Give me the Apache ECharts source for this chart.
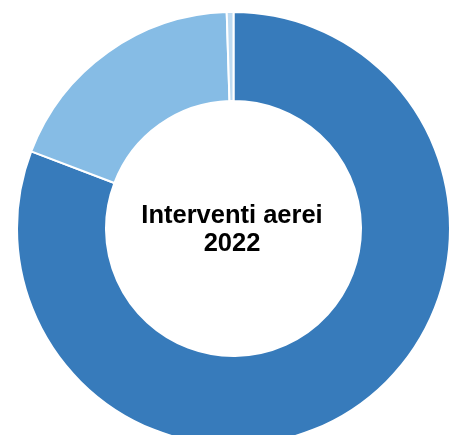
<!DOCTYPE html>
<html>
<head>
<meta charset="utf-8">
<style>html,body{margin:0;padding:0;background:#fff;}#c{width:454px;height:435px;}</style>
<script src="https://cdn.jsdelivr.net/npm/echarts@6/dist/echarts.min.js"></script>
</head>
<body>
<div id="c"></div>
<script>
const categories = ['A', 'B', 'C'];
const values = [80.8, 18.7, 0.5];
const colors = ['#377bbb', '#86bce5', '#bddaf1'];
const centerTitle = 'Interventi aerei\n2022';

const chart = echarts.init(document.getElementById('c'), null, {renderer: 'canvas'});
chart.setOption({
  animation: false,
  backgroundColor: '#ffffff',
  series: [{
    type: 'pie',
    center: [233.5, 228.5],
    radius: [127.5, 216.5],
    startAngle: 90,
    clockwise: true,
    label: {show: false},
    labelLine: {show: false},
    emphasis: {disabled: true},
    itemStyle: {borderColor: '#ffffff', borderWidth: 2},
    data: categories.map((c, i) => ({name: c, value: values[i], itemStyle: {color: colors[i]}}))
  }],
  graphic: [{
    type: 'text',
    x: 232,
    y: 230,
    style: {
      text: centerTitle,
      font: 'bold 25.5px "Liberation Sans", Arial, sans-serif',
      lineHeight: 28,
      fill: '#000000',
      align: 'center',
      verticalAlign: 'middle'
    }
  }]
});
</script>
</body>
</html>
